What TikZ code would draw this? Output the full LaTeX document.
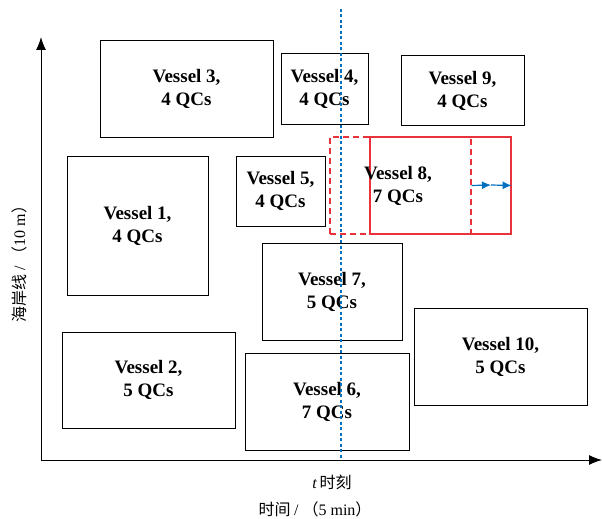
\documentclass[tikz,border=0pt]{standalone}
\usepackage{fontspec}
\setmainfont{Liberation Serif}
\newfontfamily\cjk{Noto Sans CJK SC}
\usetikzlibrary{arrows.meta}
\definecolor{shipred}{RGB}{232,50,60}
\definecolor{nowblue}{RGB}{0,112,192}
\tikzset{
  vessel/.style = {draw, line width = 1pt, align = center, font = \fontsize{19}{23}\selectfont\bfseries},
  axis/.style = {line width = 1pt, -{Latex[length = 13pt, width = 10pt]}}
}
\begin{document}
\begin{tikzpicture}[x = 1pt, y = -1pt]
\useasboundingbox (0,0) rectangle (602,519);
% axes
\coordinate (o) at (41,460);
\coordinate (ytop) at (41,37);
\coordinate (xend) at (602,460);
\draw[axis] (o) -- (ytop);
\draw[axis] (o) -- (xend);
\node[rotate = 90] (ylab) at (19,260) {\fontsize{16}{18}\selectfont\cjk 海岸线 \rmfamily / {\cjk （}10 m{\cjk ）}};
\node (tlab) at (332,482) {\fontsize{16}{18}\selectfont\textit{t}\,\cjk 时刻};
\node (xlab) at (315,509) {\fontsize{16}{18}\selectfont\cjk 时间 \rmfamily / {\cjk （}5 min{\cjk ）}};
% vessels
\node[vessel, minimum width = 173pt, minimum height = 96pt] (v3) at (186.5,89) {Vessel 3,\\4 QCs};
\node[vessel, minimum width = 87pt, minimum height = 70pt] (v4) at (324.5,89) {Vessel 4,\\4 QCs};
\node[vessel, minimum width = 123pt, minimum height = 69pt] (v9) at (462.5,90.5) {Vessel 9,\\4 QCs};
\node[vessel, minimum width = 141pt, minimum height = 139pt] (v1) at (137.5,225.5) {Vessel 1,\\4 QCs};
\node[vessel, minimum width = 89pt, minimum height = 70pt] (v5) at (280.5,191) {Vessel 5,\\4 QCs};
\node[draw = shipred, line width = 1.2pt, dash pattern = on 6pt off 4pt, minimum width = 141pt, minimum height = 97pt] (v8old) at (400.5,185.5) {};
\node[draw = shipred, line width = 1.2pt, minimum width = 141pt, minimum height = 97pt] (v8) at (440.5,185.5) {};
\node[vessel, draw = none] (v8txt) at (398,185.5) {Vessel 8,\\7 QCs};
\node[vessel, minimum width = 140pt, minimum height = 97pt] (v7) at (332,291.5) {Vessel 7,\\5 QCs};
\node[vessel, minimum width = 173pt, minimum height = 96pt] (v2) at (148.5,380) {Vessel 2,\\5 QCs};
\node[vessel, minimum width = 164pt, minimum height = 97pt] (v6) at (327,401.5) {Vessel 6,\\7 QCs};
\node[vessel, minimum width = 173pt, minimum height = 97pt] (v10) at (500.5,356.5) {Vessel 10,\\5 QCs};
% current time
\coordinate (nowtop) at (341,9);
\coordinate (nowbot) at (341,460);
\draw[nowblue, line width = 2.5pt, dash pattern = on 3pt off 2.5pt] (nowtop) -- (nowbot);
% shift of vessel 8
\coordinate (mid) at (491,185);
\draw[nowblue, line width = 1.2pt, -{Latex[length = 9pt, width = 8pt]}] (v8old.east) -- (mid);
\draw[nowblue, line width = 1.2pt, -{Latex[length = 9pt, width = 8pt]}] (mid) -- (v8.east);
\end{tikzpicture}
\end{document}
